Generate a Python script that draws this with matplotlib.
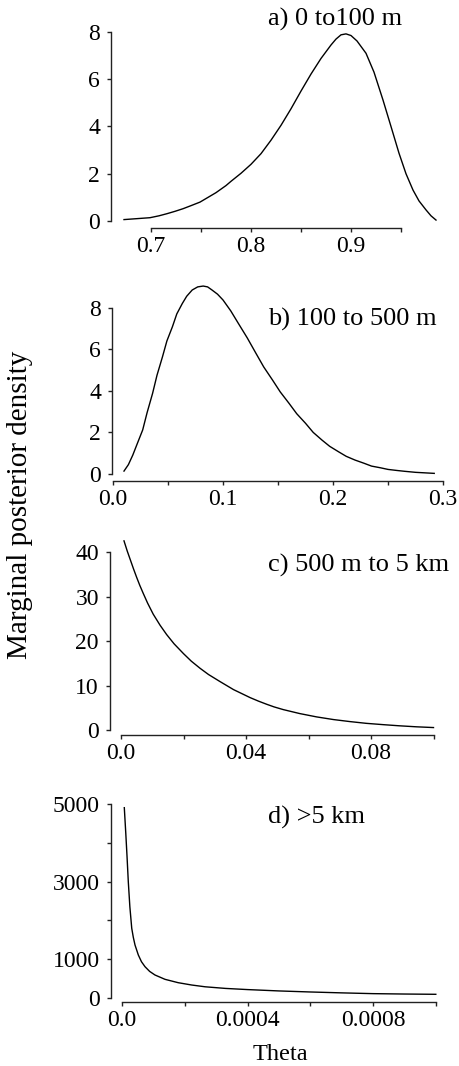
import numpy as np
import matplotlib
matplotlib.use("Agg")
import matplotlib.pyplot as plt

plt.rcParams['font.family'] = ['Liberation Serif', 'DejaVu Serif']

# a) 0 to 100 m
theta_a = [0.673, 0.686, 0.699, 0.708, 0.716, 0.724, 0.732, 0.740, 0.749, 0.757, 0.765,
           0.775, 0.780, 0.790, 0.800, 0.810, 0.820, 0.830, 0.840, 0.850, 0.860, 0.870,
           0.880, 0.885, 0.890, 0.895, 0.900, 0.906, 0.915, 0.923, 0.932, 0.940, 0.948,
           0.955, 0.962, 0.968, 0.975, 0.980, 0.985]
dens_a = [0.06, 0.10, 0.14, 0.22, 0.31, 0.41, 0.52, 0.65, 0.80, 1.00, 1.20,
          1.50, 1.68, 2.02, 2.40, 2.85, 3.42, 4.05, 4.75, 5.50, 6.22, 6.88,
          7.45, 7.70, 7.88, 7.92, 7.85, 7.62, 7.10, 6.30, 5.12, 4.00, 2.87,
          2.00, 1.31, 0.85, 0.47, 0.22, 0.04]

# b) 100 to 500 m
theta_b = [0.010, 0.014, 0.018, 0.022, 0.027, 0.031, 0.036, 0.040, 0.045, 0.049, 0.054,
           0.058, 0.063, 0.067, 0.072, 0.077, 0.082, 0.086, 0.090, 0.095, 0.100, 0.107,
           0.114, 0.122, 0.130, 0.137, 0.145, 0.152, 0.160, 0.167, 0.175, 0.182, 0.190,
           0.197, 0.205, 0.212, 0.220, 0.228, 0.235, 0.243, 0.250, 0.258, 0.265, 0.275, 0.292]
dens_b = [0.14, 0.45, 0.91, 1.45, 2.12, 2.95, 3.88, 4.75, 5.64, 6.40, 7.08,
          7.70, 8.20, 8.55, 8.85, 9.00, 9.04, 9.00, 8.85, 8.65, 8.37, 7.85,
          7.24, 6.55, 5.80, 5.15, 4.52, 3.95, 3.40, 2.90, 2.44, 2.00, 1.63,
          1.33, 1.07, 0.85, 0.67, 0.52, 0.38, 0.30, 0.22, 0.17, 0.13, 0.08, 0.03]

# c) 500 m to 5 km
theta_c = [0.00096, 0.002, 0.003, 0.004, 0.005, 0.006, 0.0071, 0.0085, 0.0103, 0.0125,
           0.0146, 0.017, 0.02, 0.0225, 0.0253, 0.028, 0.0317, 0.036, 0.0413, 0.044,
           0.0466, 0.049, 0.0519, 0.0572, 0.0626, 0.068, 0.0732, 0.0785, 0.084, 0.089,
           0.0945, 0.1]
dens_c = [42.6, 40.3, 38.3, 36.3, 34.4, 32.6, 30.8, 28.6, 26.1, 23.6,
          21.5, 19.4, 17.2, 15.5, 13.9, 12.5, 10.9, 9.1, 7.3, 6.5,
          5.8, 5.2, 4.6, 3.7, 2.95, 2.35, 1.9, 1.5, 1.2, 0.95,
          0.72, 0.55]

# d) >5 km
theta_d = [0.0000073, 0.000012, 0.000016, 0.00002, 0.000025, 0.000031, 0.000036, 0.0000414,
           0.000052, 0.000062, 0.0000733, 0.000088, 0.000105, 0.000137, 0.000179, 0.000222,
           0.000265, 0.00033, 0.0004, 0.0005, 0.0006, 0.0007, 0.0008, 0.0009, 0.001]
dens_d = [4910, 4250, 3650, 3000, 2350, 1793, 1560, 1362,
          1103, 930, 801, 680, 587, 475, 388, 328,
          282, 240, 210, 175, 148, 125, 105, 95, 88]

titles = ['a) 0 to100 m', 'b) 100 to 500 m', 'c) 500 m to 5 km', 'd) >5 km']

xticks_a = [0.7, 0.8, 0.9]; xlabels_a = ['0.7', '0.8', '0.9']; xminor_a = [0.75, 0.85, 0.95]
yticks_a = [0, 2, 4, 6, 8]
xticks_b = [0.0, 0.1, 0.2, 0.3]; xlabels_b = ['0.0', '0.1', '0.2', '0.3']; xminor_b = [0.05, 0.15, 0.25]
yticks_b = [0, 2, 4, 6, 8]
xticks_c = [0.0, 0.04, 0.08]; xlabels_c = ['0.0', '0.04', '0.08']; xminor_c = [0.02, 0.06, 0.1]
yticks_c = [0, 10, 20, 30, 40]
xticks_d = [0.0, 0.0004, 0.0008]; xlabels_d = ['0.0', '0.0004', '0.0008']; xminor_d = [0.0002, 0.0006, 0.001]
yticks_d = [0, 1000, 3000, 5000]; yminor_d = [2000, 4000]

W, H = 459, 1066
fig = plt.figure(figsize=(W / 100, H / 100), dpi=100)


def panel(box, xlim, ylim, x, y, xt, xl, xm, yt, ym, xb, yb):
    l, r, t, b = box
    ax = fig.add_axes([l / W, 1 - b / H, (r - l) / W, (b - t) / H])
    ax.plot(x, y, color='black', lw=1.0)
    ax.set_xlim(*xlim)
    ax.set_ylim(*ylim)
    for s in ['top', 'right']:
        ax.spines[s].set_visible(False)
    ax.spines['left'].set_bounds(*yb)
    ax.spines['bottom'].set_bounds(*xb)
    for s in ['left', 'bottom']:
        ax.spines[s].set_linewidth(1.0)
        ax.spines[s].set_color('#222222')
    ax.set_xticks(xt)
    ax.set_xticklabels(xl)
    ax.set_xticks(xm, minor=True)
    ax.set_yticks(yt)
    ax.set_yticks(ym, minor=True)
    ax.tick_params(which='both', direction='out', length=3, width=1.0, color='#222222')
    ax.tick_params(axis='x', labelsize=17, pad=3)
    ax.tick_params(axis='y', labelsize=17, pad=5)
    return ax


panel((111, 440, 28, 228), (0.66, 0.989), (-0.296, 8.169), theta_a, dens_a,
      xticks_a, xlabels_a, xminor_a, yticks_a, [], (0.7, 0.95), (0, 8))
panel((112, 446, 283, 481), (-0.0009, 0.3027), (-0.337, 9.187), theta_b, dens_b,
      xticks_b, xlabels_b, xminor_b, yticks_b, [], (0.0, 0.3), (0, 8))
panel((110, 438, 537, 735), (-0.00352, 0.10144), (-1.126, 43.47), theta_c, dens_c,
      xticks_c, xlabels_c, xminor_c, yticks_c, [], (0.0, 0.1), (0, 40))
panel((111, 438, 803, 1001.5), (-0.0000351, 0.001007), (-98, 5031), theta_d, dens_d,
      xticks_d, xlabels_d, xminor_d, yticks_d, yminor_d, (0.0, 0.001), (0, 5000))

title_y = [26, 326, 572, 824]
for t, yb in zip(titles, title_y):
    fig.text(268 / W, 1 - yb / H, t, fontsize=19, ha='left', va='baseline')

fig.text(20 / W, 1 - 505 / H, 'Marginal posterior density', fontsize=21,
         rotation=90, ha='center', va='center')
fig.text(280 / W, 1 - 1060 / H, 'Theta', fontsize=17.5, ha='center', va='baseline')

fig.savefig('out.png', dpi=100)
